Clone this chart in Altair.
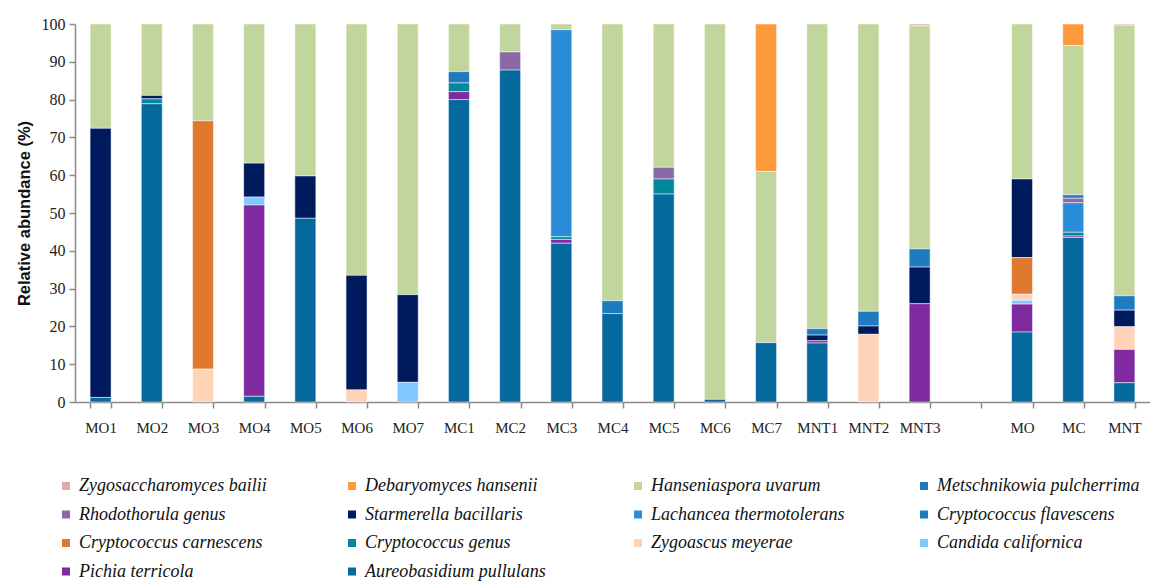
import altair as alt
import pandas as pd

samples = ["MO1", "MO2", "MO3", "MO4", "MO5", "MO6", "MO7",
           "MC1", "MC2", "MC3", "MC4", "MC5", "MC6", "MC7",
           "MNT1", "MNT2", "MNT3", "MO", "MC", "MNT"]
axis_order = samples[:17] + [" "] + samples[17:]

species = ["Zygosaccharomyces bailii", "Debaryomyces hansenii", "Hanseniaspora   uvarum",
           "Metschnikowia pulcherrima", "Rhodothorula genus", "Starmerella bacillaris",
           "Lachancea thermotolerans", "Cryptococcus flavescens", "Cryptococcus carnescens",
           "Cryptococcus genus", "Zygoascus meyerae", "Candida californica",
           "Pichia terricola", "Aureobasidium pullulans"]
colors = ["#E6A9A6", "#FD9A3E", "#C1D59C", "#1F7BBF", "#8B68A6", "#001A5E",
          "#2A8BD6", "#1F7BBF", "#E07830", "#00899A", "#FFD3B6", "#7EC8FF",
          "#7F2AA0", "#06699E"]

zygosaccharomyces = [0, 0, 0, 0, 0, 0, 0, 0, 0, 0, 0, 0, 0, 0, 0, 0, 0.5, 0, 0, 0.3]
debaryomyces = [0, 0, 0, 0, 0, 0, 0, 0, 0, 0, 0, 0, 0, 39.0, 0, 0, 0, 0, 5.7, 0]
hanseniaspora = [27.6, 18.9, 25.6, 36.8, 40.2, 66.5, 71.6, 12.6, 7.4, 1.5, 73.2, 37.9, 99.3, 45.3, 80.6, 76.0, 59.0, 41.0, 39.5, 71.6]
metschnikowia = [0, 0, 0, 0, 0, 0, 0, 0, 0, 0, 0, 0, 0, 0, 1.7, 3.9, 4.8, 0, 0.9, 3.8]
rhodothorula = [0, 0, 0, 0, 0, 0, 0, 0, 4.8, 0, 0, 3.1, 0, 0, 0, 0, 0, 0, 1.2, 0]
starmerella = [71.2, 0.9, 0, 9.0, 11.2, 30.3, 23.2, 0, 0, 0, 0, 0, 0, 0, 1.5, 2.2, 9.7, 20.8, 0, 4.4]
lachancea = [0, 0, 0, 0, 0, 0, 0, 0, 0, 54.8, 0, 0, 0, 0, 0, 0, 0, 0, 7.8, 0]
crypto_flavescens = [0, 0, 0, 0, 0, 0, 0, 3.0, 0, 0, 3.4, 0, 0, 0, 0, 0, 0, 0, 0, 0]
crypto_carnescens = [0, 0, 65.7, 0, 0, 0, 0, 0, 0, 0, 0, 0, 0, 0, 0, 0, 0, 9.7, 0, 0]
crypto_genus = [0, 1.3, 0, 0, 0, 0, 0, 2.3, 0, 0.7, 0, 4.0, 0, 0, 0, 0, 0, 0, 1.0, 0]
zygoascus = [0, 0, 8.7, 0, 0, 3.2, 0, 0, 0, 0, 0, 0, 0, 0, 0, 17.9, 0, 1.6, 0, 6.0]
candida = [0, 0, 0, 2.1, 0, 0, 5.2, 0, 0, 0, 0, 0, 0, 0, 0, 0, 0, 1.0, 0, 0]
pichia = [0, 0, 0, 50.6, 0, 0, 0, 2.1, 0, 1.0, 0, 0, 0, 0, 0.6, 0, 26.0, 7.4, 0.4, 8.8]
aureobasidium = [1.2, 78.9, 0, 1.5, 48.6, 0, 0, 80.0, 87.8, 42.0, 23.4, 55.0, 0.7, 15.7, 15.6, 0, 0, 18.5, 43.5, 5.1]

series = [zygosaccharomyces, debaryomyces, hanseniaspora, metschnikowia, rhodothorula,
          starmerella, lachancea, crypto_flavescens, crypto_carnescens, crypto_genus,
          zygoascus, candida, pichia, aureobasidium]

rows = []
for i, (name, vals) in enumerate(zip(species, series)):
    for s, v in zip(samples, vals):
        if v > 0:
            rows.append({"sample": s, "species": name, "value": v, "order": len(species) - i})
df = pd.DataFrame(rows)

chart = alt.Chart(df).mark_bar(stroke="white", strokeWidth=0.5).encode(
    x=alt.X("sample:N", sort=axis_order,
            scale=alt.Scale(domain=axis_order, paddingInner=0.59, paddingOuter=0.295),
            axis=alt.Axis(title=None, labelAngle=0, tickBand="extent", labelPadding=12,
                          labelFont="Liberation Serif", labelFontSize=15, labelColor="#222222",
                          domainColor="#8a8a8a", domainWidth=1.5, tickColor="#8a8a8a",
                          tickWidth=1.5, tickSize=6)),
    y=alt.Y("value:Q", stack="zero",
            scale=alt.Scale(domain=[0, 100], nice=False),
            axis=alt.Axis(title="Relative abundance (%)", values=list(range(0, 101, 10)),
                          grid=False, labelFont="Liberation Serif", labelFontSize=16,
                          labelColor="#222222", titleFont="Liberation Sans", titleFontSize=16.5,
                          titleFontWeight="bold", titleColor="#111111", titlePadding=9,
                          domainColor="#8a8a8a", domainWidth=1.5, tickColor="#8a8a8a",
                          tickWidth=1.5, tickSize=6, labelPadding=4)),
    color=alt.Color("species:N", scale=alt.Scale(domain=species, range=colors),
                    legend=alt.Legend(title=None, orient="none", legendX=-18, legendY=453,
                                      direction="horizontal",
                                      columns=4, gridAlign="all", columnPadding=61,
                                      rowPadding=10.5, symbolType="square", symbolSize=64,
                                      symbolStrokeWidth=0, labelFont="Liberation Serif",
                                      labelFontStyle="italic", labelFontSize=18,
                                      labelColor="#111111", labelLimit=400, labelOffset=4)),
    order=alt.Order("order:Q", sort="ascending"),
).properties(
    width=1075, height=378,
    padding={"left": 67, "top": 16, "right": 0, "bottom": 190},
    autosize="none",
).configure_view(stroke=None)

chart.save("out.html", embed_options={"renderer": "svg", "actions": False})
